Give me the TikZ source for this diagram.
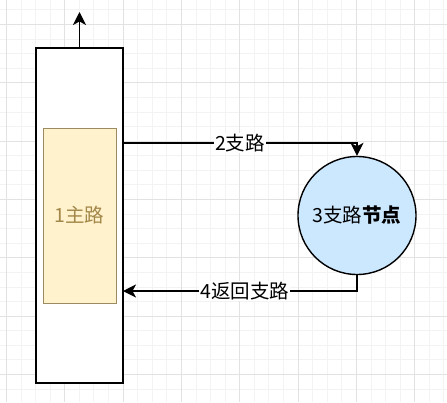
\documentclass[tikz,border=0pt]{standalone}
\usepackage{fontspec}
\setmainfont{Noto Sans CJK SC}
\usetikzlibrary{arrows.meta,positioning}

\definecolor{gridmajor}{HTML}{E2E2E2}
\definecolor{gridminor}{HTML}{F3F3F3}
\definecolor{mainfill}{HTML}{FFF2CC}
\definecolor{maindraw}{HTML}{9C8A60}
\definecolor{maintext}{HTML}{A3874A}
\definecolor{nodefill}{HTML}{CCE8FF}

\begin{document}
\begin{tikzpicture}[
        x=1pt, y=-1pt,
        font=\fontsize{19.5}{22}\selectfont,
        box/.style={rectangle, draw, line width=1.4pt, fill=white, minimum width=87pt, minimum height=335pt, inner sep=0pt},
        road/.style={rectangle, draw=maindraw, line width=1pt, fill=mainfill, text=maintext, minimum width=73pt, minimum height=175pt, inner sep=0pt},
        branch/.style={circle, draw, line width=1.4pt, fill=nodefill, minimum size=118pt, inner sep=0pt},
        line/.style={draw, line width=1.4pt, -{Stealth[length=13pt, width=13pt, inset=3.5pt]}},
        lbl/.style={fill=white, inner sep=1pt}
    ]
        \useasboundingbox (0,0) rectangle (447,402);
        % grid
        \foreach \i in {0,...,30} {
            \draw[gridminor, line width=0.6pt] (6.3+14.583*\i,0) -- (6.3+14.583*\i,402);
            \draw[gridminor, line width=0.6pt] (0,9.75+14.583*\i) -- (447,9.75+14.583*\i);
        }
        \foreach \i in {0,...,7} {
            \draw[gridmajor, line width=0.8pt] (6.3+58.33*\i,0) -- (6.3+58.33*\i,402);
            \draw[gridmajor, line width=0.8pt] (0,24.3+58.33*\i) -- (447,24.3+58.33*\i);
        }

        \node [box] (main) at (79.5,215.5) {};
        \node [road] (road) at (79.5,215.5) {1主路};
        \node [branch, right=277.5pt of main.center, anchor=center] (node3) {3支路\textbf{节点}};
        \coordinate (top) at (79.5,12);
        \coordinate (out2) at (123,143);
        \coordinate (in4) at (123,291);

        \path [line] (main.north) -- (top);
        \path [line] (out2) -| node[lbl, pos=0.25] {2支路} (node3.north);
        \path [line] (node3.south) |- node[lbl, pos=0.74] {4返回支路} (in4);
    \end{tikzpicture}
\end{document}
